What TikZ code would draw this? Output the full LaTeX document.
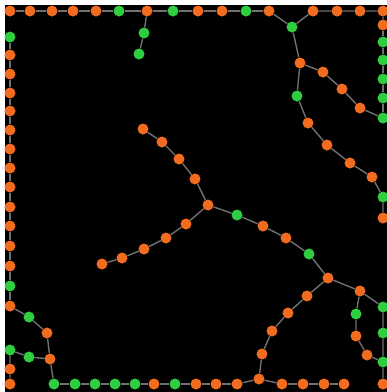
\documentclass[tikz,border=0pt]{standalone}
\usepackage{tikz}
\definecolor{orn}{RGB}{241,108,30}
\definecolor{grn}{RGB}{46,206,64}
\definecolor{LinkGray}{RGB}{112,112,112}

\begin{document}
\begin{tikzpicture}[x=1pt,y=-1pt,
    dot/.style={circle,minimum size=11pt,inner sep=0pt},
    link/.style={LinkGray,line width=1.4pt}]
  \useasboundingbox (0,0) rectangle (387,392);
  \fill[white] (0,0) rectangle (387,392);
  \fill[black] (5,5) rectangle (387,392);
  % border rows and columns
  \foreach \x/\c [count=\i] in {10/orn,30/orn,52/orn,73/orn,96/orn,119/grn,147/orn,173/grn,198/orn,222/orn,246/grn,269/orn,313/orn,337/orn,360/orn,383/orn}
    \node[dot,fill=\c] (t\i) at (\x,11) {};
  \foreach \y/\c [count=\i] in {25/orn,42/grn,60/grn,79/grn,98/grn,118/grn}
    \node[dot,fill=\c] (r\i) at (383,\y) {};
  \foreach \y/\c [count=\i] in {37/grn,55/orn,74/orn,93/orn,111/orn,130/orn,149/orn,168/orn,187/orn,207/orn,226/orn,246/orn,266/orn,286/grn,306/orn}
    \node[dot,fill=\c] (l\i) at (10,\y) {};
  \foreach \x/\y/\c [count=\i] in {54/384/grn,75/384/grn,95/384/grn,115/384/grn,135/384/grn,154/384/orn,175/384/grn,196/384/orn,216/384/orn,237/384/orn,259/379/orn,282/384/orn,303/384/orn,324/384/orn,344/384/orn}
    \node[dot,fill=\c] (b\i) at (\x,\y) {};
  \foreach \y/\c [count=\i] in {307/grn,333/grn,362/grn,384/orn}
    \node[dot,fill=\c] (s\i) at (383,\y) {};
  % inner branches
  \node[dot,fill=grn] (nf) at (292,27) {};
  \node[dot,fill=orn] (ne) at (300,63) {};
  \node[dot,fill=orn] (u1) at (323,72) {};
  \node[dot,fill=orn] (u2) at (342,89) {};
  \node[dot,fill=orn] (u3) at (360,108) {};
  \node[dot,fill=grn] (v1) at (297,96) {};
  \node[dot,fill=orn] (v2) at (308,123) {};
  \node[dot,fill=orn] (v3) at (327,145) {};
  \node[dot,fill=orn] (v4) at (350,163) {};
  \node[dot,fill=orn] (v5) at (372,177) {};
  \node[dot,fill=grn] (v6) at (383,197) {};
  \node[dot,fill=orn] (v7) at (383,218) {};
  \node[dot,fill=grn] (p1) at (144,33) {};
  \node[dot,fill=grn] (p2) at (139,54) {};
  \node[dot,fill=orn] (c) at (208,205) {};
  \node[dot,fill=orn] (a1) at (143,129) {};
  \node[dot,fill=orn] (a2) at (162,142) {};
  \node[dot,fill=orn] (a3) at (179,159) {};
  \node[dot,fill=orn] (a4) at (195,179) {};
  \node[dot,fill=orn] (w1) at (186,224) {};
  \node[dot,fill=orn] (w2) at (166,238) {};
  \node[dot,fill=orn] (w3) at (144,249) {};
  \node[dot,fill=orn] (w4) at (122,258) {};
  \node[dot,fill=orn] (w5) at (102,264) {};
  \node[dot,fill=grn] (e1) at (237,215) {};
  \node[dot,fill=orn] (e2) at (263,226) {};
  \node[dot,fill=orn] (e3) at (286,238) {};
  \node[dot,fill=grn] (e4) at (309,254) {};
  \node[dot,fill=orn] (d) at (328,278) {};
  \node[dot,fill=orn] (k1) at (360,291) {};
  \node[dot,fill=grn] (k2) at (356,314) {};
  \node[dot,fill=orn] (k3) at (356,336) {};
  \node[dot,fill=orn] (k4) at (367,355) {};
  \node[dot,fill=orn] (m1) at (307,296) {};
  \node[dot,fill=orn] (m2) at (288,313) {};
  \node[dot,fill=orn] (m3) at (272,331) {};
  \node[dot,fill=orn] (m4) at (262,354) {};
  \node[dot,fill=grn] (q1) at (29,317) {};
  \node[dot,fill=orn] (q2) at (47,333) {};
  \node[dot,fill=orn] (q3) at (50,359) {};
  \node[dot,fill=grn] (n1) at (10,350) {};
  \node[dot,fill=orn] (n2) at (10,369) {};
  \node[dot,fill=orn] (n3) at (10,384) {};
  \node[dot,fill=grn] (n4) at (29,357) {};
  % links
  \foreach \i [remember=\i as \j (initially 1)] in {2,...,12}
    \draw[link] (t\j) -- (t\i);
  \draw[link] (t12) -- (nf) -- (t13) -- (t14) -- (t15) -- (t16) -- (r1);
  \foreach \i [remember=\i as \j (initially 1)] in {2,...,6}
    \draw[link] (r\j) -- (r\i);
  \draw[link] (t7) -- (p1) -- (p2);
  \draw[link] (nf) -- (ne) -- (u1) -- (u2) -- (u3) -- (r6);
  \draw[link] (ne) -- (v1) -- (v2) -- (v3) -- (v4) -- (v5) -- (v6) -- (v7);
  \foreach \i [remember=\i as \j (initially 1)] in {2,...,15}
    \draw[link] (l\j) -- (l\i);
  \draw[link] (l15) -- (q1) -- (q2) -- (q3) -- (b1);
  \foreach \i [remember=\i as \j (initially 1)] in {2,...,15}
    \draw[link] (b\j) -- (b\i);
  \draw[link] (n3) -- (n2) -- (n1) -- (n4) -- (q3);
  \draw[link] (a1) -- (a2) -- (a3) -- (a4) -- (c) -- (w1) -- (w2) -- (w3) -- (w4) -- (w5);
  \draw[link] (c) -- (e1) -- (e2) -- (e3) -- (e4) -- (d) -- (k1) -- (s1) -- (s2) -- (s3) -- (s4);
  \draw[link] (k1) -- (k2) -- (k3) -- (k4) -- (s3);
  \draw[link] (d) -- (m1) -- (m2) -- (m3) -- (m4) -- (b11);
\end{tikzpicture}
\end{document}
